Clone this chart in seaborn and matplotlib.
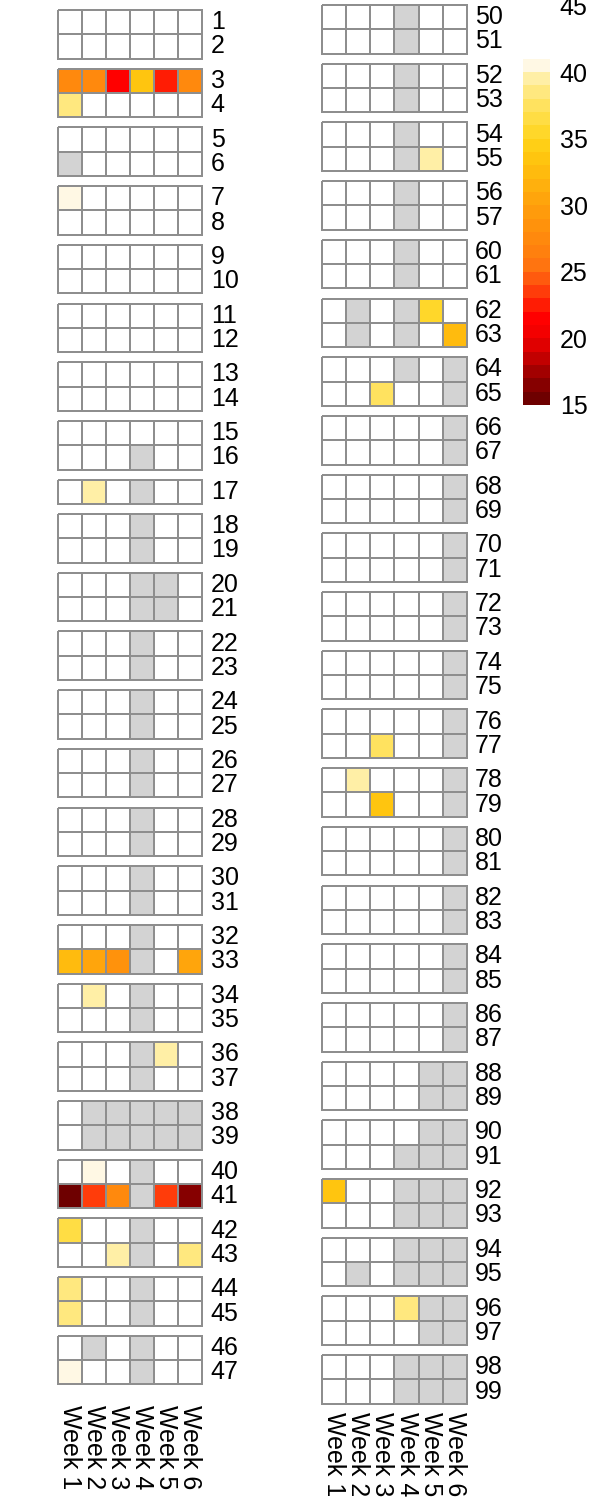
import numpy as np
import pandas as pd
import matplotlib
matplotlib.use("Agg")
import matplotlib.pyplot as plt
from matplotlib.colors import ListedColormap, BoundaryNorm
import seaborn as sns

plt.rcParams['font.family'] = ['Liberation Sans', 'DejaVu Sans']

weeks = ['Week 1', 'Week 2', 'Week 3', 'Week 4', 'Week 5', 'Week 6']

# row blocks, one small heatmap each
left_groups = [[1, 2], [3, 4], [5, 6], [7, 8], [9, 10], [11, 12], [13, 14],
               [15, 16], [17], [18, 19], [20, 21], [22, 23], [24, 25], [26, 27],
               [28, 29], [30, 31], [32, 33], [34, 35], [36, 37], [38, 39],
               [40, 41], [42, 43], [44, 45], [46, 47]]
right_groups = [[50, 51], [52, 53], [54, 55], [56, 57], [60, 61], [62, 63],
                [64, 65], [66, 67], [68, 69], [70, 71], [72, 73], [74, 75],
                [76, 77], [78, 79], [80, 81], [82, 83], [84, 85], [86, 87],
                [88, 89], [90, 91], [92, 93], [94, 95], [96, 97], [98, 99]]

# coloured cells: row -> {week: value}
scores = {
    3: {1: 27.5, 2: 27.5, 3: 21.5, 4: 33.5, 5: 22.5, 6: 27.5},
    4: {1: 38.5},
    7: {1: 40.5},
    17: {2: 39.5},
    33: {1: 32.5, 2: 30.5, 3: 28.5, 6: 30.5},
    34: {2: 39.5},
    36: {5: 39.5},
    40: {2: 40.3},
    41: {1: 15.5, 2: 23.5, 3: 27.5, 5: 23.5, 6: 16.5},
    42: {1: 36.5},
    43: {3: 39.5, 6: 38.5},
    44: {1: 38.5},
    45: {1: 38.5},
    47: {1: 40.5},
    55: {5: 39.5},
    62: {5: 35.2},
    63: {6: 32.5},
    65: {3: 37.5},
    77: {3: 37.5},
    78: {2: 39.5},
    79: {3: 33.0},
    92: {1: 33.0},
    96: {4: 38.5},
}

# grey (NA) cells: row -> weeks
na_weeks = {6: [1], 20: [4, 5], 21: [4, 5], 38: [2, 3, 4, 5, 6],
            39: [2, 3, 4, 5, 6], 46: [2, 4]}
na_weeks.update({r: [4] for r in [16, 17, 18, 19] + list(range(22, 38)) + list(range(40, 46)) + [47]})
na_weeks.update({r: [4] for r in [50, 51, 52, 53, 54, 55, 56, 57, 60, 61]})
na_weeks.update({62: [2, 4], 63: [2, 4], 64: [4, 6], 65: [6]})
na_weeks.update({r: [6] for r in range(66, 88)})
na_weeks.update({88: [5, 6], 89: [5, 6], 90: [5, 6], 91: [4, 5, 6], 92: [4, 5, 6],
                 93: [4, 5, 6], 94: [4, 5, 6], 95: [2, 4, 5, 6], 96: [5, 6],
                 97: [5, 6], 98: [4, 5, 6], 99: [4, 5, 6]})

legend_breaks = np.arange(15, 42)
legend_ticks = [15, 20, 25, 30, 35, 40, 45]

band_colors = ['#6E0000', '#860000', '#A20000', '#C20000', '#E00000', '#F40000',
               '#FF0000', '#FF1C04', '#FF3C0A', '#FF5A0E', '#FF7410', '#FF800E',
               '#FF890D', '#FF920C', '#FF9B0C', '#FFA50C', '#FFB00D', '#FFBB0E',
               '#FFC50F', '#FFCF16', '#FFD72A', '#FFDD44', '#FFE25F', '#FFE87F',
               '#FFEFA6', '#FFF8E4']
heat = ListedColormap(band_colors)
norm = BoundaryNorm(legend_breaks, heat.N)
grid = '#8E8E8E'
na_col = '#D3D3D3'

W, H = 606, 1510
fig = plt.figure(figsize=(W / 100, H / 100), dpi=100)
cell_w, cell_h, gap = 24.15, 24.3, 10.1


def panel_frames(rows):
    vals = pd.DataFrame(np.nan, index=rows, columns=weeks)
    status = pd.DataFrame(0, index=rows, columns=weeks)
    for r in rows:
        for w, v in scores.get(r, {}).items():
            vals.loc[r, weeks[w - 1]] = v
        for w in na_weeks.get(r, []):
            status.loc[r, weeks[w - 1]] = 1
    return vals, status


def draw_column(groups, x0, y0, xlab_pad):
    y = y0
    for i, rows in enumerate(groups):
        h = cell_h * len(rows)
        ax = fig.add_axes([x0 / W, 1 - (y + h) / H, 6 * cell_w / W, h / H])
        vals, status = panel_frames(rows)
        sns.heatmap(status, cmap=ListedColormap(['white', na_col]), vmin=0, vmax=1,
                    cbar=False, linewidths=1.4, linecolor=grid, ax=ax)
        sns.heatmap(vals, mask=vals.isna(), cmap=heat, norm=norm, cbar=False,
                    linewidths=1.4, linecolor=grid, ax=ax)
        for coll in ax.collections:
            coll.set_clip_on(False)
        ax.yaxis.tick_right()
        ax.set_yticklabels([str(r) for r in rows], rotation=0, fontsize=18, va='center')
        ax.tick_params(axis='y', length=0, pad=6)
        if i == len(groups) - 1:
            ax.set_xticklabels(weeks, rotation=-90, fontsize=18, ha='center', va='top')
            ax.tick_params(axis='x', length=0, pad=xlab_pad)
        else:
            ax.set_xticks([])
        ax.set_xlabel('')
        ax.set_ylabel('')
        y += h + gap


draw_column(left_groups, 57.5, 10, 15)
draw_column(right_groups, 322, 5, 6)

# legend bar
px_per_unit = 13.32
y15 = 405
cax = fig.add_axes([522.7 / W, 1 - y15 / H, 27.3 / W, 30 * px_per_unit / H])
mids = (legend_breaks[:-1] + legend_breaks[1:]) / 2
cax.pcolormesh([0, 1], legend_breaks, mids.reshape(-1, 1), cmap=heat, norm=norm)
cax.set_xlim(0, 1)
cax.set_ylim(15, 45)
for s in cax.spines.values():
    s.set_visible(False)
cax.set_xticks([])
cax.yaxis.tick_right()
cax.set_yticks(legend_ticks)
cax.set_yticklabels([str(t) for t in legend_ticks], fontsize=18)
cax.tick_params(axis='y', length=0, pad=7)

fig.savefig('out.png', dpi=100)
